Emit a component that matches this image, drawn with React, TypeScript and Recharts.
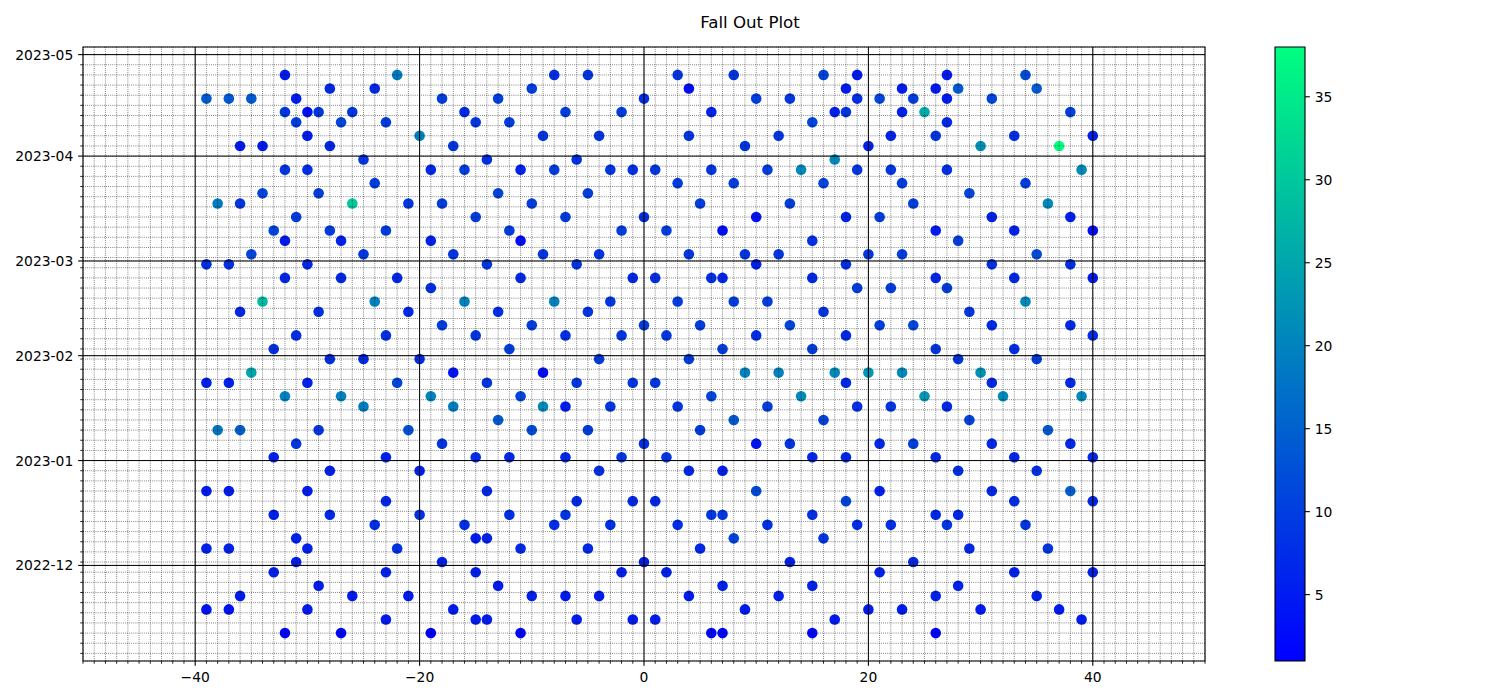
import React from 'react';
import { ScatterChart, Scatter, XAxis, YAxis, CartesianGrid, ReferenceLine, ReferenceArea } from 'recharts';

const FONT = '"DejaVu Sans", sans-serif';

// One row of points per date (twice-weekly observations)
const dates = [
  '2023-04-25', '2023-04-21', '2023-04-18', '2023-04-14', '2023-04-11', '2023-04-07', '2023-04-04',
  '2023-03-31', '2023-03-28', '2023-03-24', '2023-03-21', '2023-03-18', '2023-03-14', '2023-03-10',
  '2023-03-07', '2023-03-03', '2023-02-28', '2023-02-24', '2023-02-21', '2023-02-17', '2023-02-14',
  '2023-02-10', '2023-02-07', '2023-02-03', '2023-01-31', '2023-01-27', '2023-01-24', '2023-01-20',
  '2023-01-17', '2023-01-13', '2023-01-10', '2023-01-06', '2023-01-02', '2022-12-29', '2022-12-23',
  '2022-12-20', '2022-12-16', '2022-12-13', '2022-12-09', '2022-12-06', '2022-12-02', '2022-11-29',
  '2022-11-25', '2022-11-22', '2022-11-18', '2022-11-15', '2022-11-11',
];

const xByDate = [
  [-32, -22, -8, -5, 3, 8, 16, 19, 27, 34],
  [-28, -24, -10, 4, 18, 23, 26, 28, 35],
  [-39, -37, -35, -31, -18, -13, 0, 10, 13, 19, 21, 24, 27, 31],
  [-32, -30, -29, -26, -16, -7, -2, 6, 17, 18, 23, 25, 38],
  [-31, -27, -23, -15, -12, 15, 27],
  [-30, -20, -9, -4, 4, 12, 22, 26, 33, 40],
  [-36, -34, -28, -17, 9, 20, 30, 37],
  [-25, -14, -6, 17],
  [-32, -30, -19, -16, -11, -8, -3, -1, 1, 6, 11, 14, 19, 22, 27, 39],
  [-24, 3, 8, 16, 23, 34],
  [-34, -29, -13, -5, 29],
  [-38, -36, -26, -21, -18, -10, 5, 13, 24, 36],
  [-31, -15, -7, 0, 10, 18, 21, 31, 38],
  [-33, -28, -23, -12, -2, 2, 7, 26, 33, 40],
  [-32, -27, -19, -11, 15, 28],
  [-35, -25, -17, -9, -4, 4, 9, 12, 20, 23, 35],
  [-39, -37, -30, -14, -6, 10, 18, 31, 38],
  [-32, -27, -22, -11, -1, 1, 6, 7, 15, 26, 33, 40],
  [-19, 19, 22, 27],
  [-34, -24, -16, -8, -3, 3, 8, 11, 34],
  [-36, -29, -21, -13, -5, 16, 29],
  [-18, -10, 0, 5, 13, 21, 24, 31, 38],
  [-31, -23, -15, -7, -2, 2, 10, 18, 40],
  [-33, -12, 7, 15, 26, 33],
  [-28, -25, -20, -4, 4, 28, 35],
  [-35, -17, -9, 9, 12, 17, 20, 23, 30],
  [-39, -37, -30, -22, -14, -6, -1, 1, 18, 31, 38],
  [-32, -27, -19, -11, 6, 14, 25, 32, 39],
  [-25, -17, -9, -7, -3, 3, 11, 19, 22, 27],
  [-13, 8, 16, 29],
  [-38, -36, -29, -21, -10, -5, 5, 36],
  [-31, -18, 0, 10, 13, 21, 24, 31, 38],
  [-33, -23, -15, -12, -7, -2, 2, 15, 18, 26, 33, 40],
  [-28, -20, -4, 4, 7, 28, 35],
  [-39, -37, -30, -14, 10, 21, 31, 38],
  [-23, -6, -1, 1, 18, 33, 40],
  [-33, -28, -20, -12, -7, 6, 7, 15, 26, 28],
  [-24, -16, -8, -3, 3, 11, 19, 22, 27, 34],
  [-31, -15, -14, 8, 16],
  [-39, -37, -30, -22, -11, -5, 5, 29, 36],
  [-31, -18, 0, 13, 24],
  [-33, -23, -15, -2, 2, 21, 33, 40],
  [-29, -13, 7, 15, 28],
  [-36, -26, -21, -10, -7, -4, 4, 12, 26, 35],
  [-39, -37, -30, -17, 9, 20, 23, 30, 37],
  [-23, -15, -14, -6, -1, 1, 17, 39],
  [-32, -27, -19, -11, 6, 7, 15, 26],
];

const valueByDate = [
  [5, 19, 8, 9, 9, 9, 11, 5, 5, 12],
  [7, 7, 10, 3, 5, 5, 5, 14, 14],
  [14, 14, 14, 5, 10, 10, 8, 10, 9, 8, 11, 10, 5, 11],
  [9, 3, 9, 9, 7, 10, 10, 6, 6, 9, 6, 26, 10],
  [10, 11, 10, 9, 10, 11, 7],
  [5, 20, 9, 9, 9, 9, 6, 9, 8, 6],
  [5, 5, 7, 9, 9, 6, 22, 38],
  [9, 8, 8, 21],
  [9, 8, 7, 10, 6, 10, 9, 8, 9, 9, 10, 21, 9, 9, 8, 21],
  [10, 10, 10, 11, 10, 10],
  [11, 10, 11, 10, 11],
  [19, 9, 30, 9, 10, 10, 10, 10, 10, 21],
  [10, 10, 10, 8, 4, 6, 10, 6, 6],
  [11, 10, 10, 10, 10, 10, 3, 5, 6, 3],
  [5, 6, 6, 3, 8, 10],
  [11, 9, 9, 9, 9, 9, 9, 9, 9, 10, 12],
  [8, 8, 7, 9, 9, 6, 8, 8, 8],
  [7, 7, 7, 7, 7, 8, 8, 7, 7, 7, 7, 5],
  [8, 10, 10, 10],
  [28, 20, 20, 20, 9, 10, 10, 10, 21],
  [7, 8, 7, 8, 9, 9, 9],
  [10, 10, 10, 10, 11, 10, 11, 7, 7],
  [8, 8, 9, 8, 9, 9, 8, 7, 8],
  [8, 10, 10, 10, 9, 8],
  [8, 7, 8, 10, 10, 9, 10],
  [25, 4, 3, 20, 20, 21, 23, 21, 22],
  [6, 6, 6, 11, 9, 9, 9, 9, 7, 7, 7],
  [20, 20, 20, 11, 11, 21, 23, 21, 21],
  [19, 19, 21, 5, 9, 9, 10, 8, 9, 7],
  [14, 14, 11, 11],
  [18, 15, 9, 13, 12, 10, 10, 14],
  [9, 9, 8, 4, 9, 7, 10, 7, 7],
  [6, 6, 8, 7, 7, 9, 9, 7, 7, 7, 7, 7],
  [6, 6, 8, 7, 6, 8, 8],
  [5, 5, 5, 7, 12, 6, 7, 15],
  [7, 7, 7, 7, 11, 8, 7],
  [6, 7, 8, 8, 9, 9, 9, 8, 7, 7],
  [8, 8, 8, 8, 8, 8, 8, 8, 9, 9],
  [6, 5, 6, 11, 9],
  [6, 6, 6, 8, 7, 7, 7, 7, 9],
  [6, 6, 6, 6, 7],
  [6, 6, 6, 6, 6, 6, 6, 6],
  [5, 5, 6, 6, 6],
  [5, 5, 5, 6, 5, 5, 5, 6, 6, 6],
  [4, 4, 5, 5, 5, 5, 5, 5, 5],
  [5, 5, 5, 5, 5, 5, 5, 5],
  [2, 2, 1, 2, 2, 2, 2, 2],
];

const monthTickLabels = ['2022-12', '2023-01', '2023-02', '2023-03', '2023-04', '2023-05'];
const xMajorTicks = [-40, -20, 0, 20, 40];
const xLimits: [number, number] = [-50, 50];
const colorTicks = [5, 10, 15, 20, 25, 30, 35];
const title = 'Fall Out Plot';

// ---- helpers ----
const ORIGIN = Date.UTC(2022, 10, 1);
const toDay = (s: string) => {
  const [y, m, d] = s.split('-').map(Number);
  return Math.round((Date.UTC(y, m - 1, d || 1) - ORIGIN) / 86400000);
};

const points = dates.flatMap((d, i) =>
  xByDate[i].map((x, j) => ({ x, y: toDay(d), v: valueByDate[i][j] }))
);

const allDays = points.map((p) => p.y);
const dMin = Math.min(...allDays);
const dMax = Math.max(...allDays);
const dPad = (dMax - dMin) * 0.05;
const yDomain: [number, number] = [dMin - dPad, dMax + dPad];

const monthDays = monthTickLabels.map(toDay);
const monthLabelByDay = new Map<number, string>(monthDays.map((d, i) => [d, monthTickLabels[i]]));

// minor date ticks every 3 days (matplotlib DayLocator interval=3)
const yMinor: number[] = [];
{
  const ref = toDay('2023-01-01');
  for (let d = ref - 3 * Math.floor((ref - yDomain[0]) / 3); d <= yDomain[1]; d += 3) yMinor.push(d);
}
const yTicks = Array.from(new Set([...monthDays, ...yMinor])).sort((a, b) => a - b);

const xTicks: number[] = [];
for (let v = xLimits[0]; v <= xLimits[1]; v += 1) xTicks.push(v);

const vals = points.map((p) => p.v);
const vMin = Math.min(...vals);
const vMax = Math.max(...vals);

// matplotlib "winter" colormap
const winter = (v: number) => {
  const t = Math.max(0, Math.min(1, (v - vMin) / (vMax - vMin)));
  return `rgb(0,${Math.round(255 * t)},${Math.round(255 * (1 - t / 2))})`;
};

const MAJ = 4.86;
const MIN = 2.78;
const FS = 13.89;

const fmtX = (v: number) => (v < 0 ? `\u2212${Math.abs(v)}` : `${v}`);

const XTick = (props: any) => {
  const { x, y, payload } = props;
  const v = payload.value;
  const major = xMajorTicks.includes(v);
  return (
    <g>
      <line x1={x} x2={x} y1={y} y2={y + (major ? MAJ : MIN)} stroke="#000" strokeWidth={major ? 1.1 : 0.83} />
      {major && (
        <text x={x} y={y + 21} textAnchor="middle" fontFamily={FONT} fontSize={FS} fill="#000">
          {fmtX(v)}
        </text>
      )}
    </g>
  );
};

const YTick = (props: any) => {
  const { x, y, payload } = props;
  const label = monthLabelByDay.get(payload.value);
  const major = label !== undefined;
  return (
    <g>
      <line x1={x} x2={x - (major ? MAJ : MIN)} y1={y} y2={y} stroke="#000" strokeWidth={major ? 1.1 : 0.83} />
      {major && (
        <text x={x - 9.72} y={y + 5} textAnchor="end" fontFamily={FONT} fontSize={FS} fill="#000">
          {label}
        </text>
      )}
    </g>
  );
};

const CTick = (props: any) => {
  const { x, y, payload } = props;
  return (
    <g>
      <line x1={x} x2={x + MAJ} y1={y} y2={y} stroke="#000" strokeWidth={1.1} />
      <text x={x + 9.72} y={y + 5} textAnchor="start" fontFamily={FONT} fontSize={FS} fill="#000">
        {payload.value}
      </text>
    </g>
  );
};

const renderDot = (p: any) => {
  const v = p.payload ? p.payload.v : p.v;
  return <circle cx={p.cx} cy={p.cy} r={5.3} fill={winter(v)} />;
};

const emptyShape = () => <g />;

export default function App() {
  return (
    <div style={{ position: 'absolute', left: 0, top: 0, width: 1500, height: 700, background: '#fff' }}>
      <svg width={1500} height={40} style={{ position: 'absolute', left: 0, top: 0 }}>
        <text x={750} y={28} textAnchor="middle" fontFamily={FONT} fontSize={16.67} fill="#000">
          {title}
        </text>
      </svg>

      <div style={{ position: 'absolute', left: 0, top: 0 }}>
        <ScatterChart width={1500} height={700} margin={{ top: 47, right: 295, bottom: 9, left: 8 }}>
          <XAxis
            type="number"
            dataKey="x"
            domain={xLimits}
            allowDataOverflow
            ticks={xTicks}
            interval={0}
            tickSize={0}
            tickMargin={0}
            tick={<XTick />}
            axisLine={false}
            tickLine={false}
            height={30}
          />
          <YAxis
            type="number"
            dataKey="y"
            domain={yDomain}
            allowDataOverflow
            ticks={yTicks}
            interval={0}
            tickSize={0}
            tickMargin={0}
            tick={<YTick />}
            axisLine={false}
            tickLine={false}
            width={75}
          />
          <Scatter data={points} shape={renderDot} isAnimationActive={false} />
          <CartesianGrid stroke="#000" strokeWidth={0.6} strokeDasharray="0.8 1.3" {...({ zIndex: 1000 } as any)} />
          {xMajorTicks.map((v) => (
            <ReferenceLine key={`vx${v}`} x={v} stroke="#000" strokeWidth={1} {...({ zIndex: 1001 } as any)} />
          ))}
          {monthDays.map((d) => (
            <ReferenceLine key={`hy${d}`} y={d} stroke="#000" strokeWidth={1} {...({ zIndex: 1001 } as any)} />
          ))}
          <ReferenceArea
            x1={xLimits[0]}
            x2={xLimits[1]}
            y1={yDomain[0]}
            y2={yDomain[1]}
            fill="none"
            fillOpacity={0}
            stroke="#000"
            strokeWidth={1.1}
            {...({ zIndex: 1002 } as any)}
          />
        </ScatterChart>
      </div>

      <div style={{ position: 'absolute', left: 0, top: 0 }}>
        <ScatterChart width={1500} height={700} margin={{ top: 47, right: 135, bottom: 39, left: 1275 }}>
          <defs>
            <linearGradient id="winterGrad" x1="0" y1="1" x2="0" y2="0">
              <stop offset="0" stopColor={winter(vMin)} />
              <stop offset="1" stopColor={winter(vMax)} />
            </linearGradient>
          </defs>
          <XAxis type="number" dataKey="x" domain={[0, 1]} allowDataOverflow hide />
          <YAxis
            type="number"
            dataKey="y"
            orientation="right"
            domain={[vMin, vMax]}
            allowDataOverflow
            ticks={colorTicks}
            interval={0}
            tickSize={0}
            tickMargin={0}
            tick={<CTick />}
            axisLine={false}
            tickLine={false}
            width={60}
          />
          <Scatter data={[{ x: 0, y: vMin }, { x: 1, y: vMax }]} shape={emptyShape} isAnimationActive={false} />
          <ReferenceArea
            x1={0}
            x2={1}
            y1={vMin}
            y2={vMax}
            fill="url(#winterGrad)"
            fillOpacity={1}
            stroke="#000"
            strokeWidth={1.1}
          />
        </ScatterChart>
      </div>
    </div>
  );
}
